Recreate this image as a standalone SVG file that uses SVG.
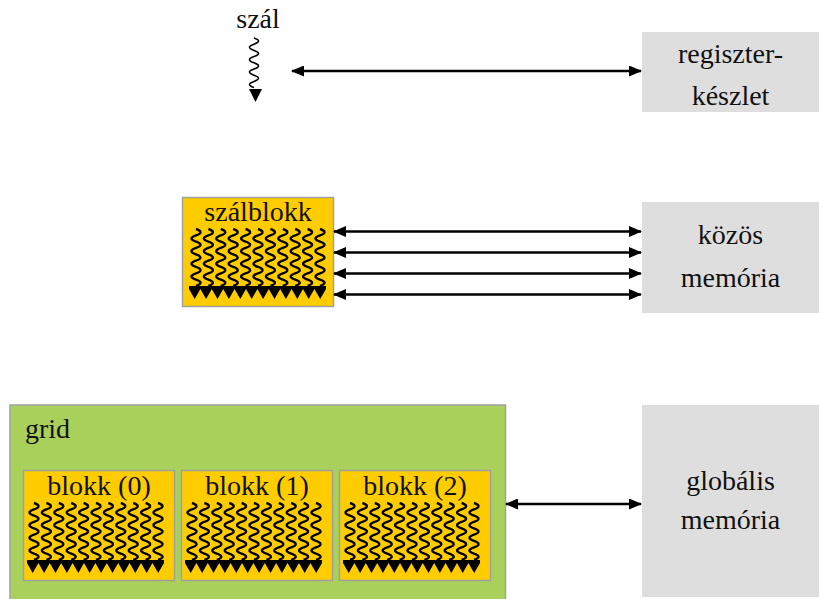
<svg xmlns="http://www.w3.org/2000/svg" xmlns:xlink="http://www.w3.org/1999/xlink" width="819" height="599" viewBox="0 0 819 599">
  <style>
    .lbl { font-family: "Liberation Serif", "Times New Roman", Tinos, "Noto Serif", FreeSerif, "DejaVu Serif", serif; font-size: 28px; fill: #111; }
    .mid { text-anchor: middle; }
    .mem { fill: #dedede; }
    .blk { fill: #ffcc00; stroke: #a0a0a0; stroke-width: 1.5; }
    .grid { fill: #a9d05a; stroke: #a0a0a0; stroke-width: 1.5; }
    .wave { fill: none; stroke: #000; stroke-width: 2.4; }
    .link { stroke: #000; stroke-width: 2.5; fill: none; }
  </style>
  <defs>
    <marker id="head" viewBox="0 0 13 11" refX="12" refY="5.5" markerWidth="13" markerHeight="11" markerUnits="userSpaceOnUse" orient="auto-start-reverse">
      <path d="M0,0 L13,5.5 L0,11 Z" fill="#000"/>
    </marker>
    <!-- one wavy thread -->
    <path id="wave" class="wave" d="M0,0 q9,3.17 0,6.33 q-9,3.17 0,6.33 q9,3.17 0,6.33 q-9,3.17 0,6.33 q9,3.17 0,6.33 q-9,3.17 0,6.33 q9,3.17 0,6.33 q-9,3.17 0,6.33 q9,3.17 0,6.33"/>
    <!-- a row of 11 threads ending on a bar of arrowheads -->
    <g id="threads">
      <use xlink:href="#wave" x="3"/>
      <use xlink:href="#wave" x="15.4"/>
      <use xlink:href="#wave" x="27.8"/>
      <use xlink:href="#wave" x="40.2"/>
      <use xlink:href="#wave" x="52.6"/>
      <use xlink:href="#wave" x="65"/>
      <use xlink:href="#wave" x="77.4"/>
      <use xlink:href="#wave" x="89.8"/>
      <use xlink:href="#wave" x="102.2"/>
      <use xlink:href="#wave" x="114.6"/>
      <use xlink:href="#wave" x="127"/>
      <rect x="-4" y="57" width="137" height="3" fill="#000"/>
      <path fill="#000" d="M-4,60 h11.4 l-5.7,10 Z M7.4,60 h11.4 l-5.7,10 Z M18.8,60 h11.4 l-5.7,10 Z M30.2,60 h11.4 l-5.7,10 Z M41.6,60 h11.4 l-5.7,10 Z M53,60 h11.4 l-5.7,10 Z M64.4,60 h11.4 l-5.7,10 Z M75.8,60 h11.4 l-5.7,10 Z M87.2,60 h11.4 l-5.7,10 Z M98.6,60 h11.4 l-5.7,10 Z M110,60 h11.4 l-5.7,10 Z M121.4,60 h11.6 l-5.8,10 Z"/>
    </g>
  </defs>

  <!-- memory spaces -->
  <g id="registers">
    <rect class="mem" x="642" y="32" width="177" height="80"/>
    <text class="lbl mid" x="730.5" y="63">regiszter-</text>
    <text class="lbl mid" x="730.5" y="105">készlet</text>
  </g>
  <g id="shared-memory">
    <rect class="mem" x="642" y="202" width="177" height="111"/>
    <text class="lbl mid" x="730.5" y="244">közös</text>
    <text class="lbl mid" x="730.5" y="287">memória</text>
  </g>
  <g id="global-memory">
    <rect class="mem" x="642" y="405" width="177" height="192"/>
    <text class="lbl mid" x="730.5" y="490">globális</text>
    <text class="lbl mid" x="730.5" y="529">memória</text>
  </g>

  <!-- single thread -->
  <g id="thread">
    <text class="lbl mid" x="258" y="28">szál</text>
    <path fill="none" stroke="#000" stroke-width="1.6" d="M254,38 q9,3.1 0,6.2 q-9,3.1 0,6.2 q9,3.1 0,6.2 q-9,3.1 0,6.2 q9,3.1 0,6.2 q-9,3.1 0,6.2 q9,3.1 0,6.2 q-9,3.1 0,6.2"/>
    <path fill="#000" d="M249,89 L262,89 L255.5,102 Z"/>
  </g>

  <!-- thread block -->
  <g id="thread-block">
    <rect class="blk" x="182.5" y="197.5" width="151" height="109"/>
    <text class="lbl mid" x="258" y="221">szálblokk</text>
    <use xlink:href="#threads" x="193" y="229"/>
  </g>

  <!-- grid of blocks -->
  <g id="grid">
    <rect class="grid" x="10" y="405" width="495.5" height="200"/>
    <text class="lbl" x="25" y="438">grid</text>
  </g>
  <g id="block-0">
    <rect class="blk" x="23.5" y="470.5" width="151" height="110"/>
    <text class="lbl mid" x="99" y="495">blokk (0)</text>
    <use xlink:href="#threads" x="31" y="503"/>
  </g>
  <g id="block-1">
    <rect class="blk" x="181.5" y="470.5" width="151" height="110"/>
    <text class="lbl mid" x="257" y="495">blokk (1)</text>
    <use xlink:href="#threads" x="189" y="503"/>
  </g>
  <g id="block-2">
    <rect class="blk" x="339.5" y="470.5" width="151" height="110"/>
    <text class="lbl mid" x="415" y="495">blokk (2)</text>
    <use xlink:href="#threads" x="347" y="503"/>
  </g>

  <!-- memory access connectors -->
  <g id="connectors">
    <line class="link" x1="292" y1="71" x2="641" y2="71" marker-start="url(#head)" marker-end="url(#head)"/>
    <line class="link" x1="334" y1="231.5" x2="641" y2="231.5" marker-start="url(#head)" marker-end="url(#head)"/>
    <line class="link" x1="334" y1="252.5" x2="641" y2="252.5" marker-start="url(#head)" marker-end="url(#head)"/>
    <line class="link" x1="334" y1="273.5" x2="641" y2="273.5" marker-start="url(#head)" marker-end="url(#head)"/>
    <line class="link" x1="334" y1="294.5" x2="641" y2="294.5" marker-start="url(#head)" marker-end="url(#head)"/>
    <line class="link" x1="506" y1="504" x2="641" y2="504" marker-start="url(#head)" marker-end="url(#head)"/>
  </g>
</svg>
